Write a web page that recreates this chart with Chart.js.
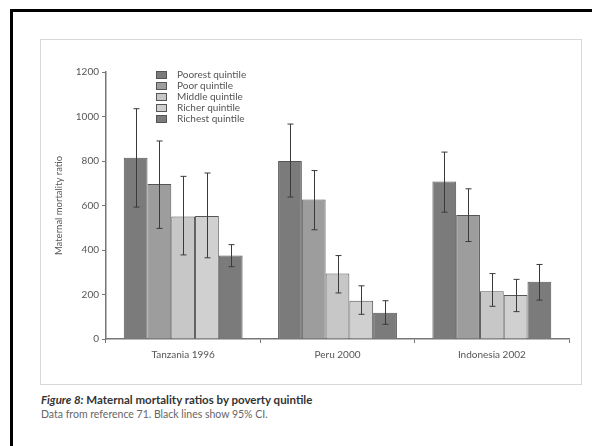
<!DOCTYPE html>
<html>
<head>
<meta charset="utf-8">
<script src="https://cdn.jsdelivr.net/npm/chart.js@4.4.0/dist/chart.umd.min.js"></script>
<style>
  body { margin: 0; background: #fff; width: 592px; height: 446px; overflow: hidden; position: relative; }
  #frame { position: absolute; left: 10px; top: 9px; width: 600px; height: 460px; border-left: 3px solid #000; border-top: 3px solid #000; }
  #box { position: absolute; left: 40px; top: 39px; width: 540px; height: 344px; border: 1px solid #d8d8d8; }
  #box canvas { position: absolute; left: 0; top: 0; }
  #legend { position: absolute; left: 115px; top: 29px; font: 10px Lato, sans-serif; color: #555; }
  #legend div { height: 11px; line-height: 11px; white-space: nowrap; }
  #legend span { display: inline-block; width: 11px; height: 8px; margin-right: 10px; vertical-align: -1px; box-sizing: border-box; border: 1px solid #555; }
  #cap { position: absolute; left: 41px; top: 393px; font-family: "Liberation Sans Narrow", Lato, sans-serif; color: #333; }
  #cap .t { font-size: 11.5px; font-weight: bold; }
  #cap .s { font-size: 10.5px; color: #666; margin-top: 2px; }
</style>
</head>
<body>
<div id="frame"></div>
<div id="box">
  <canvas id="myChart" width="540" height="344"></canvas>
  <div id="legend"></div>
</div>
<div id="cap">
  <div class="t"><i>Figure 8:</i> Maternal mortality ratios by poverty quintile</div>
  <div class="s">Data from reference 71. Black lines show 95% CI.</div>
</div>
<script>
// Categories and series
var countries = ["Tanzania 1996", "Peru 2000", "Indonesia 2002"];
var quintiles = ["Poorest quintile", "Poor quintile", "Middle quintile", "Richer quintile", "Richest quintile"];

var poorest = [815, 800, 708];
var poor = [697, 627, 557];
var middle = [551, 294, 215];
var richer = [553, 172, 198];
var richest = [375, 118, 257];

// 95% CI bounds (low / high)
var poorestLo = [593, 638, 570], poorestHi = [1035, 966, 840];
var poorLo = [497, 491, 438], poorHi = [890, 757, 675];
var middleLo = [378, 207, 147], middleHi = [731, 375, 294];
var richerLo = [365, 111, 123], richerHi = [746, 239, 268];
var richestLo = [325, 66, 175], richestHi = [424, 172, 335];

var yTicks = [0, 200, 400, 600, 800, 1000, 1200];

var fills = ["#7b7b7b", "#9d9d9d", "#c7c7c7", "#d0d0d0", "#7b7b7b"];
var values = [poorest, poor, middle, richer, richest];
var lows = [poorestLo, poorLo, middleLo, richerLo, richestLo];
var highs = [poorestHi, poorHi, middleHi, richerHi, richestHi];

var datasets = quintiles.map(function (q, i) {
    return {
        label: q,
        data: values[i],
        lo: lows[i],
        hi: highs[i],
        backgroundColor: fills[i],
        borderColor: "#555",
        borderWidth: 1,
        categoryPercentage: 0.77,
        barPercentage: 1.0,
    };
});

// legend as html
var legend = document.getElementById("legend");
quintiles.forEach(function (q, i) {
    var row = document.createElement("div");
    row.innerHTML = '<span style="background:' + fills[i] + '"></span>' + q;
    legend.appendChild(row);
});

// error bars drawn from the y scale
var errorBars = {
    id: "errorBars",
    afterDatasetsDraw: function (chart) {
        var ctx = chart.ctx;
        var y = chart.scales.y;
        ctx.save();
        ctx.strokeStyle = "#3a3a3a";
        ctx.lineWidth = 1;
        chart.data.datasets.forEach(function (ds, d) {
            var meta = chart.getDatasetMeta(d);
            meta.data.forEach(function (bar, i) {
                var x = Math.round(bar.x) + 0.5;
                var top = y.getPixelForValue(ds.hi[i]);
                var bot = y.getPixelForValue(ds.lo[i]);
                ctx.beginPath();
                ctx.moveTo(x, top);
                ctx.lineTo(x, bot);
                ctx.moveTo(x - 3, top);
                ctx.lineTo(x + 3, top);
                ctx.moveTo(x - 3, bot);
                ctx.lineTo(x + 3, bot);
                ctx.stroke();
            });
        });
        ctx.restore();
    },
};

var tickFont = { family: "Lato, sans-serif", size: 10 };

var ctx = document.getElementById("myChart").getContext("2d");
var myChart = new Chart(ctx, {
    type: "bar",
    data: { labels: countries, datasets: datasets },
    plugins: [errorBars],
    options: {
        responsive: false,
        animation: false,
        layout: { padding: { top: 32, right: 12, left: 0, bottom: 0 } },
        plugins: {
            legend: { display: false },
            tooltip: { enabled: false },
        },
        scales: {
            x: {
                grid: { display: true, drawOnChartArea: false, offset: true, color: "#777", tickLength: 4 },
                border: { color: "#777", width: 1.5 },
                ticks: { color: "#555", font: tickFont, padding: 6 },
                afterFit: function (s) { s.height = 45; },
            },
            y: {
                min: 0,
                max: 1200,
                afterBuildTicks: function (s) {
                    s.ticks = yTicks.map(function (v) { return { value: v }; });
                },
                grid: { display: true, drawOnChartArea: false, color: "#777", tickLength: 4 },
                border: { color: "#777", width: 1.5 },
                ticks: {
                    color: "#555",
                    font: tickFont,
                    padding: 3,
                    callback: function (v) { return String(v); },
                },
                title: {
                    display: true,
                    text: "Maternal mortality ratio",
                    color: "#555",
                    font: { family: "Lato, sans-serif", size: 9.5 },
                    padding: { top: 12, bottom: 0 },
                },
                afterFit: function (s) { s.width = 65; },
            },
        },
    },
});
</script>
</body>
</html>
